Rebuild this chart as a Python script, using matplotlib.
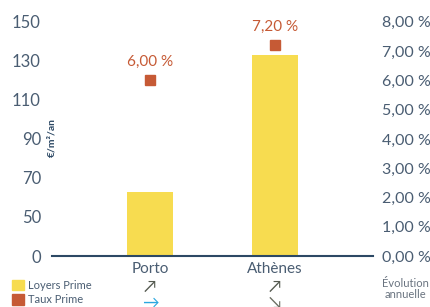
import matplotlib
matplotlib.use('Agg')
import matplotlib.pyplot as plt
from matplotlib.patches import Patch
import numpy as np

plt.rcParams['font.family'] = ['Lato', 'DejaVu Sans']

# données
villes = ['Porto', 'Athènes']
loyers = [63, 133]            # €/m²/an
taux = [6.00, 7.20]           # %
fleche_loyers = ['↗', '↗']
fleche_taux = ['→', '↘']
couleur_taux_fleche = ['#2aa7df', '#6b6e62']
ticks_gauche = [0, 50, 70, 90, 110, 130, 150]
ticks_droite = [0, 1, 2, 3, 4, 5, 6, 7, 8]

jaune = '#f7dc50'
orange = '#c65a35'
texte = '#4a5d72'
ligne = '#2c4864'

# échelle gauche non linéaire : graduations régulièrement espacées
pos = np.arange(len(ticks_gauche))
def fwd(v):
    return np.interp(v, ticks_gauche, pos)
def inv(p):
    return np.interp(p, pos, ticks_gauche)

fig = plt.figure(figsize=(4.3, 3.07), dpi=100)
ax = fig.add_axes([0.121, 0.166, 0.747, 0.763])
ax.set_yscale('function', functions=(fwd, inv))
ax.set_ylim(0, 150)
ax.set_xlim(-0.784, 1.784)

x = np.arange(len(villes))
ax.bar(x, loyers, width=0.37, color=jaune, zorder=2)
ax.set_yticks(ticks_gauche)
ax.set_yticklabels([str(t) for t in ticks_gauche])
ax.tick_params(axis='y', length=0, pad=8, labelsize=12, labelcolor=texte)
ax.set_xticks(x)
ax.set_xticklabels(villes)
ax.tick_params(axis='x', length=0, pad=4, labelsize=11, labelcolor=texte)
for s in ['left', 'right', 'top']:
    ax.spines[s].set_visible(False)
ax.spines['bottom'].set_color(ligne)
ax.spines['bottom'].set_linewidth(1.5)
ax.set_ylabel('€/m²/an', fontsize=7.5, color=ligne, fontweight='bold')
ax.yaxis.set_label_coords(0.012, 0.508)

ax2 = ax.twinx()
ax2.set_ylim(0, 8)
ax2.plot(x, taux, 's', color=orange, markersize=6.5, zorder=3)
for xi, t in zip(x, taux):
    ax2.annotate(f'{t:.2f} %'.replace('.', ','), (xi, t), xytext=(0, 8),
                 textcoords='offset points', ha='center', va='bottom',
                 fontsize=11, color=orange)
ax2.set_yticks(ticks_droite)
ax2.set_yticklabels([f'{t:.2f} %'.replace('.', ',') for t in ticks_droite])
ax2.tick_params(axis='y', length=0, pad=6, labelsize=11.5, labelcolor=texte)
for s in ax2.spines.values():
    s.set_visible(False)

# flèches d'évolution sous les villes
for xi, f1, f2, c2 in zip(x, fleche_loyers, fleche_taux, couleur_taux_fleche):
    ax.annotate(f1, (xi, 0), xycoords=('data', 'axes fraction'), xytext=(0, -22.5),
                textcoords='offset points', ha='center', va='center',
                fontsize=12, color='#555a50')
    ax.annotate(f2, (xi, 0), xycoords=('data', 'axes fraction'), xytext=(0, -33.5),
                textcoords='offset points', ha='center', va='center',
                fontsize=12, color=c2)

fig.text(0.942, 0.06, 'Évolution\nannuelle', ha='center', va='center',
         fontsize=8, color='#6a7480', linespacing=1.0)

ax.legend(handles=[Patch(color=jaune, label='Loyers Prime'),
                   Patch(color=orange, label='Taux Prime')],
          loc='upper left', bbox_to_anchor=(0.028, 0.088),
          bbox_transform=fig.transFigure, frameon=False, fontsize=8,
          handlelength=1.05, handleheight=1.05, handletextpad=0.4,
          labelspacing=0.3, borderpad=0, borderaxespad=0, labelcolor=texte)

fig.savefig('out.png', dpi=100)
